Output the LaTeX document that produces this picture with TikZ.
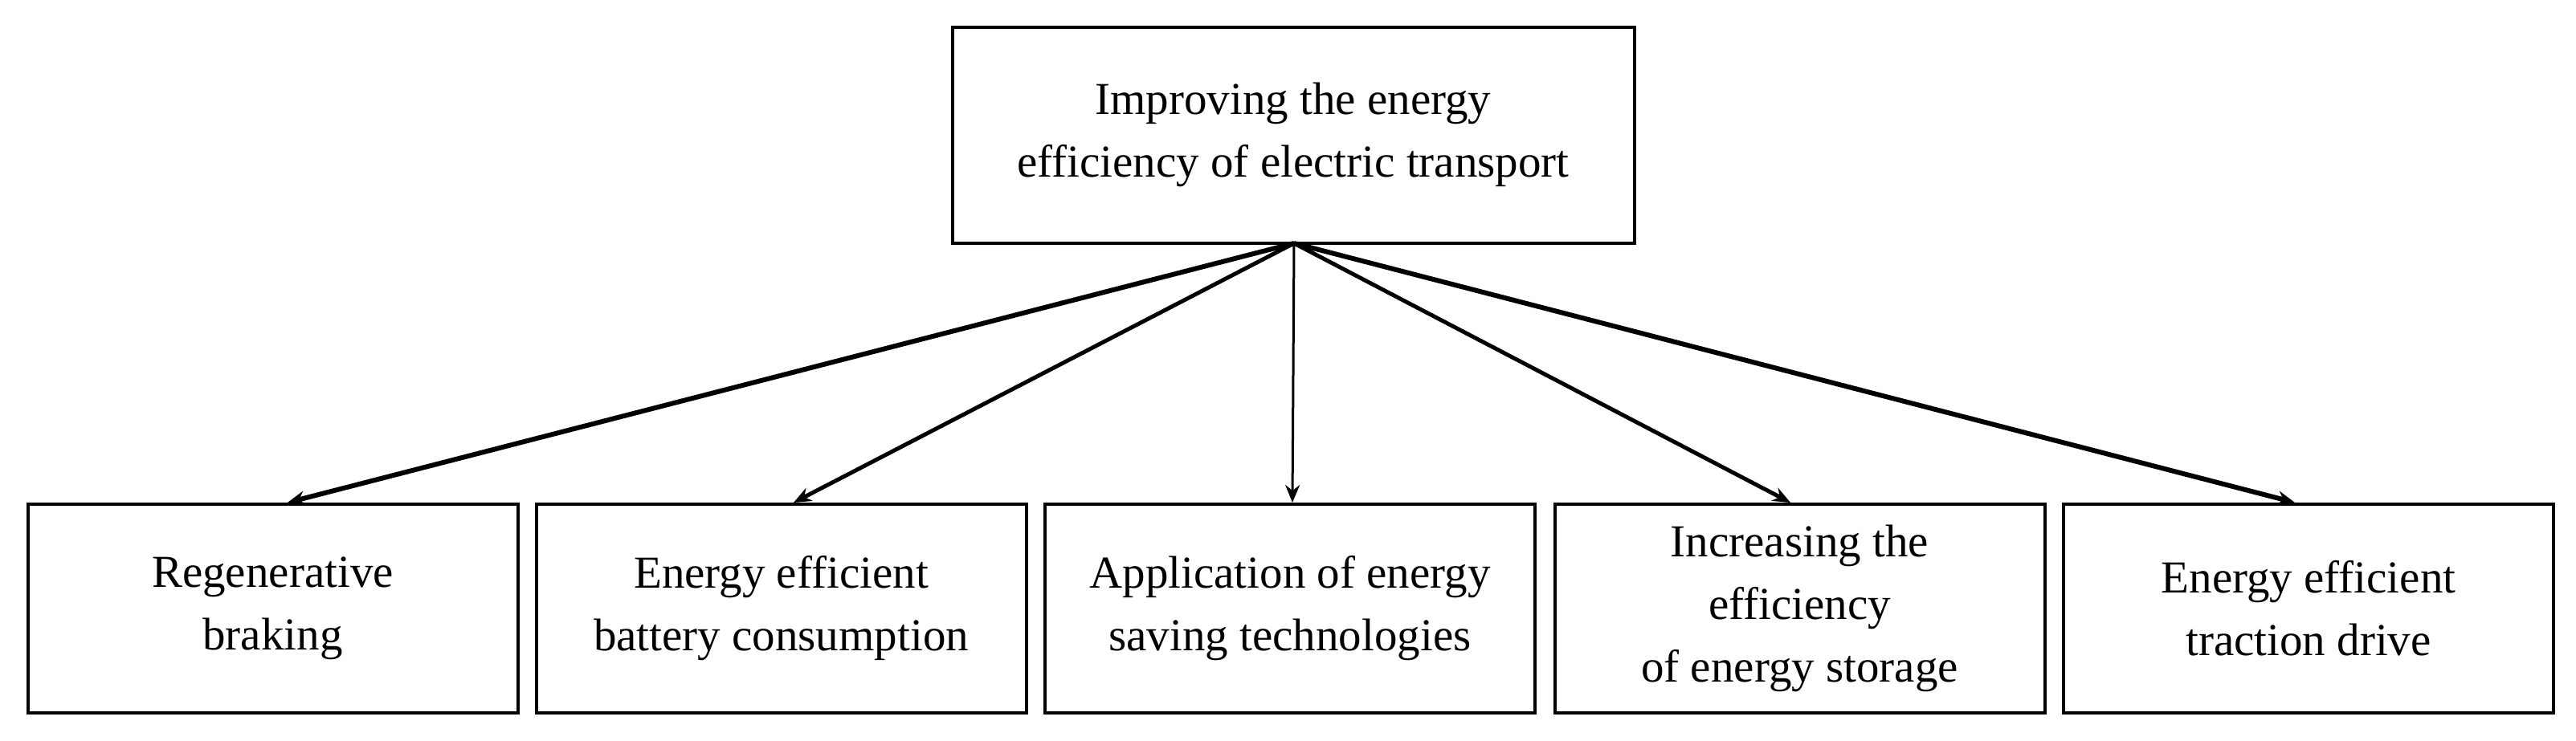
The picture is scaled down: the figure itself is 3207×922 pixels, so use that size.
\documentclass[tikz,border=0pt]{standalone}
\usepackage{fontspec}
\setmainfont{Liberation Serif}
\usetikzlibrary{arrows.meta}
\begin{document}
\begin{tikzpicture}[x=1pt,y=-1pt,
  boxst/.style={draw,line width=4pt,align=center,font=\fontsize{57}{78}\selectfont,inner sep=0pt},
  arr/.style={line width=6pt,-{Stealth[length=22pt,width=18pt]}}]
\useasboundingbox (0,0) rectangle (3207,922);
\node[boxst,minimum width=849pt,minimum height=269pt] (top) at (1610,168) {Improving the energy\\efficiency of electric transport};
\foreach \n/\x/\t in {a/339.5/{Regenerative\\braking},b/972.5/{Energy efficient\\battery consumption},c/1606/{Application of energy\\saving technologies},d/2240.5/{Increasing the\\efficiency\\of energy storage},e/2874/{Energy efficient\\traction drive}}
  \node[boxst,minimum width=610pt,minimum height=260pt] (\n) at (\x,758) {\t};
\coordinate (s) at (1611,303);
\draw[arr] (s) -- (a.north -| 358,0);
\draw[arr,line width=5pt] (s) -- (b.north -| 988,0);
\draw[arr,line width=3pt] (s) -- (c.north -| 1609,0);
\draw[arr,line width=5pt] (s) -- (d.north -| 2229,0);
\draw[arr] (s) -- (e.north -| 2857,0);
\end{tikzpicture}
\end{document}
